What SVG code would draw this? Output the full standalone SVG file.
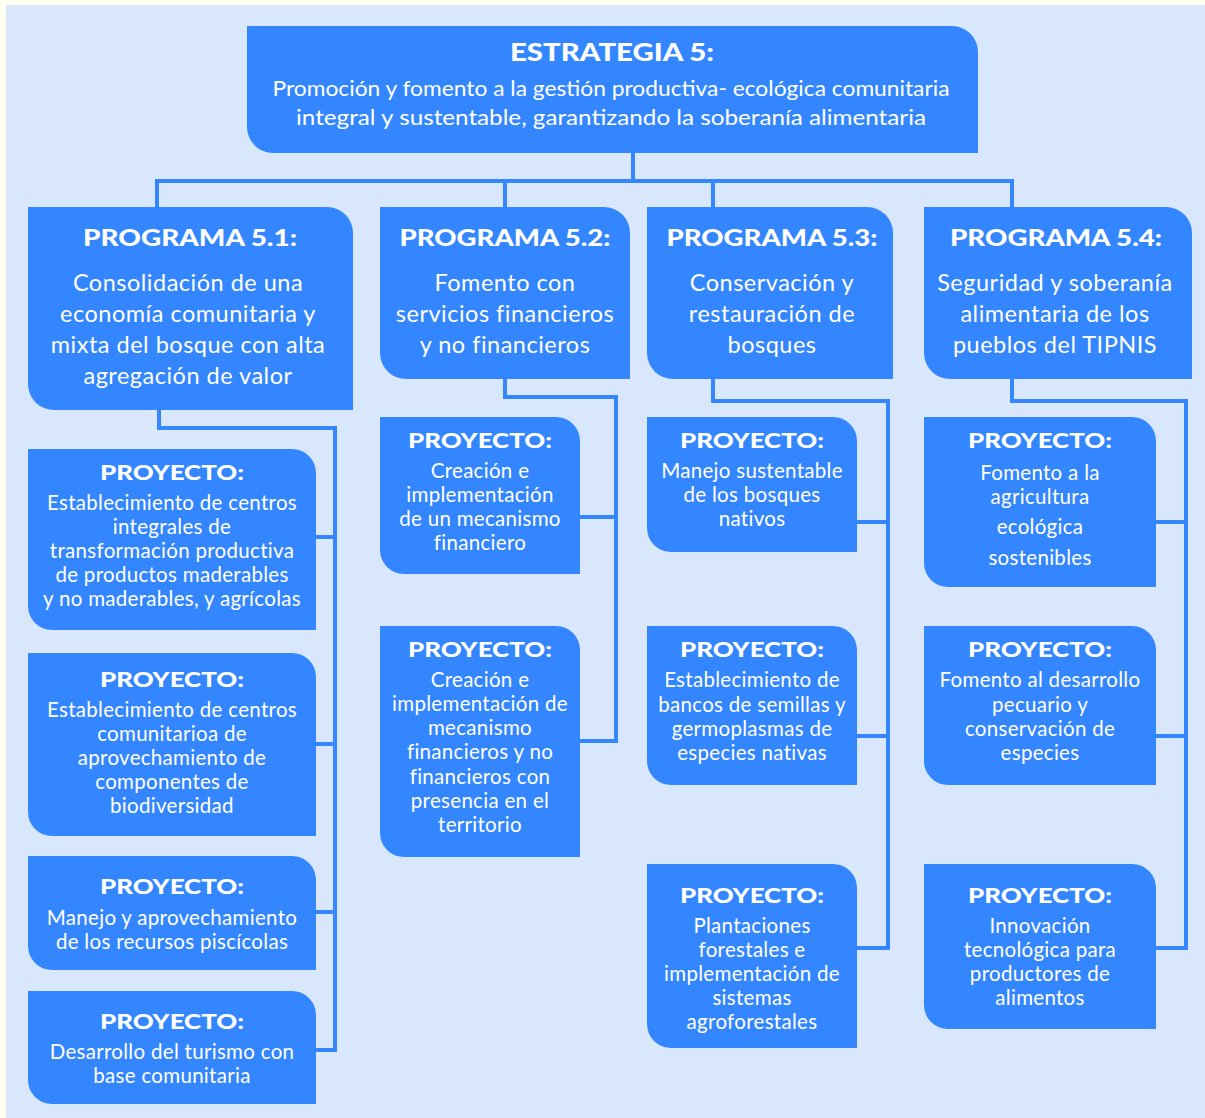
<svg xmlns="http://www.w3.org/2000/svg" width="1205" height="1118" viewBox="0 0 1205 1118">
<style>
.box{fill:#3486fe}
.ln{fill:none;stroke:#3486fe;stroke-width:4;stroke-linejoin:miter}
text{fill:#ffffff;font-family:Lato,"Open Sans","Liberation Sans",sans-serif;text-anchor:middle}
.h{font-weight:900;font-size:21px}
.hp{font-weight:900;font-size:23px}
.pb{font-size:23.5px;letter-spacing:0.5px}
.b{font-size:20.5px;letter-spacing:0.3px}
.t{font-size:21px}
</style>
<rect x="0" y="0" width="1205" height="1118" fill="#fffff2"/>
<rect x="6" y="5" width="1199" height="1113" fill="#d9e7fd"/>
<g id="connectors">
<path class="ln" d="M633,153 V181 M157,209 V181 H1012 V209 M505,181 V209 M713,181 V209"/>
<path class="ln" d="M159,410 V428 H335 V1050 H316 M316,537 H335 M316,744 H335 M316,912 H335"/>
<path class="ln" d="M505,379 V397 H616 V741 H580 M580,517 H616"/>
<path class="ln" d="M713,379 V401 H888 V948 H857 M857,522 H888 M857,736 H888"/>
<path class="ln" d="M1012,379 V401 H1186 V948 H1156 M1156,522 H1186 M1156,736 H1186"/>
</g>
<g id="estrategia">
<path class="box" d="M247,26 H952 A26,26 0 0 1 978,52 V153 H273 A26,26 0 0 1 247,127 Z"/>
<text class="hp" x="612" y="61" textLength="204" lengthAdjust="spacingAndGlyphs" style="font-size:25px">ESTRATEGIA 5:</text>
<text class="t" x="611" y="96" textLength="677" lengthAdjust="spacingAndGlyphs">Promoción y fomento a la gestión productiva- ecológica comunitaria</text>
<text class="t" x="611" y="125" textLength="630" lengthAdjust="spacingAndGlyphs">integral y sustentable, garantizando la soberanía alimentaria</text>
</g>
<g id="programa51">
<path class="box" d="M28,207 H327 A26,26 0 0 1 353,233 V410 H54 A26,26 0 0 1 28,384 Z"/>
<text class="hp" x="190" y="246" textLength="214" lengthAdjust="spacingAndGlyphs">PROGRAMA 5.1:</text>
<text class="pb" x="188" y="291">Consolidación de una</text>
<text class="pb" x="188" y="322">economía comunitaria y</text>
<text class="pb" x="188" y="353">mixta del bosque con alta</text>
<text class="pb" x="188" y="384">agregación de valor</text>
</g>
<g id="programa52">
<path class="box" d="M380,207 H604 A26,26 0 0 1 630,233 V379 H406 A26,26 0 0 1 380,353 Z"/>
<text class="hp" x="505" y="246" textLength="211" lengthAdjust="spacingAndGlyphs">PROGRAMA 5.2:</text>
<text class="pb" x="505" y="291">Fomento con</text>
<text class="pb" x="505" y="322">servicios financieros</text>
<text class="pb" x="505" y="353">y no financieros</text>
</g>
<g id="programa53">
<path class="box" d="M647,207 H867 A26,26 0 0 1 893,233 V379 H673 A26,26 0 0 1 647,353 Z"/>
<text class="hp" x="772" y="246" textLength="211" lengthAdjust="spacingAndGlyphs">PROGRAMA 5.3:</text>
<text class="pb" x="772" y="291">Conservación y</text>
<text class="pb" x="772" y="322">restauración de</text>
<text class="pb" x="772" y="353">bosques</text>
</g>
<g id="programa54">
<path class="box" d="M924,207 H1166 A26,26 0 0 1 1192,233 V379 H950 A26,26 0 0 1 924,353 Z"/>
<text class="hp" x="1056" y="246" textLength="212" lengthAdjust="spacingAndGlyphs">PROGRAMA 5.4:</text>
<text class="pb" x="1055" y="291">Seguridad y soberanía</text>
<text class="pb" x="1055" y="322">alimentaria de los</text>
<text class="pb" x="1055" y="353">pueblos del TIPNIS</text>
</g>
<g id="proyecto511">
<path class="box" d="M28,449 H292 A24,24 0 0 1 316,473 V630 H52 A24,24 0 0 1 28,606 Z"/>
<text class="h" x="172" y="480" textLength="144" lengthAdjust="spacingAndGlyphs">PROYECTO:</text>
<text class="b" x="172" y="510">Establecimiento de centros</text>
<text class="b" x="172" y="534">integrales de</text>
<text class="b" x="172" y="558">transformación productiva</text>
<text class="b" x="172" y="582">de productos maderables</text>
<text class="b" x="172" y="606">y no maderables, y agrícolas</text>
</g>
<g id="proyecto512">
<path class="box" d="M28,653 H292 A24,24 0 0 1 316,677 V836 H52 A24,24 0 0 1 28,812 Z"/>
<text class="h" x="172" y="687" textLength="144" lengthAdjust="spacingAndGlyphs">PROYECTO:</text>
<text class="b" x="172" y="717">Establecimiento de centros</text>
<text class="b" x="172" y="741">comunitarioa de</text>
<text class="b" x="172" y="765">aprovechamiento de</text>
<text class="b" x="172" y="789">componentes de</text>
<text class="b" x="172" y="813">biodiversidad</text>
</g>
<g id="proyecto513">
<path class="box" d="M28,856 H292 A24,24 0 0 1 316,880 V970 H52 A24,24 0 0 1 28,946 Z"/>
<text class="h" x="172" y="894" textLength="144" lengthAdjust="spacingAndGlyphs">PROYECTO:</text>
<text class="b" x="172" y="925">Manejo y aprovechamiento</text>
<text class="b" x="172" y="949">de los recursos piscícolas</text>
</g>
<g id="proyecto514">
<path class="box" d="M28,991 H292 A24,24 0 0 1 316,1015 V1104 H52 A24,24 0 0 1 28,1080 Z"/>
<text class="h" x="172" y="1029" textLength="144" lengthAdjust="spacingAndGlyphs">PROYECTO:</text>
<text class="b" x="172" y="1059">Desarrollo del turismo con</text>
<text class="b" x="172" y="1083">base comunitaria</text>
</g>
<g id="proyecto521">
<path class="box" d="M380,417 H556 A24,24 0 0 1 580,441 V574 H404 A24,24 0 0 1 380,550 Z"/>
<text class="h" x="480" y="448" textLength="144" lengthAdjust="spacingAndGlyphs">PROYECTO:</text>
<text class="b" x="480" y="478">Creación e</text>
<text class="b" x="480" y="502">implementación</text>
<text class="b" x="480" y="526">de un mecanismo</text>
<text class="b" x="480" y="550">financiero</text>
</g>
<g id="proyecto522">
<path class="box" d="M380,626 H556 A24,24 0 0 1 580,650 V857 H404 A24,24 0 0 1 380,833 Z"/>
<text class="h" x="480" y="657" textLength="144" lengthAdjust="spacingAndGlyphs">PROYECTO:</text>
<text class="b" x="480" y="687">Creación e</text>
<text class="b" x="480" y="711">implementación de</text>
<text class="b" x="480" y="735">mecanismo</text>
<text class="b" x="480" y="759">financieros y no</text>
<text class="b" x="480" y="784">financieros con</text>
<text class="b" x="480" y="808">presencia en el</text>
<text class="b" x="480" y="832">territorio</text>
</g>
<g id="proyecto531">
<path class="box" d="M647,417 H833 A24,24 0 0 1 857,441 V552 H671 A24,24 0 0 1 647,528 Z"/>
<text class="h" x="752" y="448" textLength="144" lengthAdjust="spacingAndGlyphs">PROYECTO:</text>
<text class="b" x="752" y="478">Manejo sustentable</text>
<text class="b" x="752" y="502">de los bosques</text>
<text class="b" x="752" y="526">nativos</text>
</g>
<g id="proyecto532">
<path class="box" d="M647,626 H833 A24,24 0 0 1 857,650 V785 H671 A24,24 0 0 1 647,761 Z"/>
<text class="h" x="752" y="657" textLength="144" lengthAdjust="spacingAndGlyphs">PROYECTO:</text>
<text class="b" x="752" y="687">Establecimiento de</text>
<text class="b" x="752" y="712">bancos de semillas y</text>
<text class="b" x="752" y="736">germoplasmas de</text>
<text class="b" x="752" y="760">especies nativas</text>
</g>
<g id="proyecto533">
<path class="box" d="M647,864 H833 A24,24 0 0 1 857,888 V1048 H671 A24,24 0 0 1 647,1024 Z"/>
<text class="h" x="752" y="903" textLength="144" lengthAdjust="spacingAndGlyphs">PROYECTO:</text>
<text class="b" x="752" y="933">Plantaciones</text>
<text class="b" x="752" y="957">forestales e</text>
<text class="b" x="752" y="981">implementación de</text>
<text class="b" x="752" y="1005">sistemas</text>
<text class="b" x="752" y="1029">agroforestales</text>
</g>
<g id="proyecto541">
<path class="box" d="M924,417 H1132 A24,24 0 0 1 1156,441 V587 H948 A24,24 0 0 1 924,563 Z"/>
<text class="h" x="1040" y="448" textLength="144" lengthAdjust="spacingAndGlyphs">PROYECTO:</text>
<text class="b" x="1040" y="480">Fomento a la</text>
<text class="b" x="1040" y="504">agricultura</text>
<text class="b" x="1040" y="534">ecológica</text>
<text class="b" x="1040" y="565">sostenibles</text>
</g>
<g id="proyecto542">
<path class="box" d="M924,626 H1132 A24,24 0 0 1 1156,650 V785 H948 A24,24 0 0 1 924,761 Z"/>
<text class="h" x="1040" y="657" textLength="144" lengthAdjust="spacingAndGlyphs">PROYECTO:</text>
<text class="b" x="1040" y="687">Fomento al desarrollo</text>
<text class="b" x="1040" y="712">pecuario y</text>
<text class="b" x="1040" y="736">conservación de</text>
<text class="b" x="1040" y="760">especies</text>
</g>
<g id="proyecto543">
<path class="box" d="M924,864 H1132 A24,24 0 0 1 1156,888 V1029 H948 A24,24 0 0 1 924,1005 Z"/>
<text class="h" x="1040" y="903" textLength="144" lengthAdjust="spacingAndGlyphs">PROYECTO:</text>
<text class="b" x="1040" y="933">Innovación</text>
<text class="b" x="1040" y="957">tecnológica para</text>
<text class="b" x="1040" y="981">productores de</text>
<text class="b" x="1040" y="1005">alimentos</text>
</g>
</svg>
